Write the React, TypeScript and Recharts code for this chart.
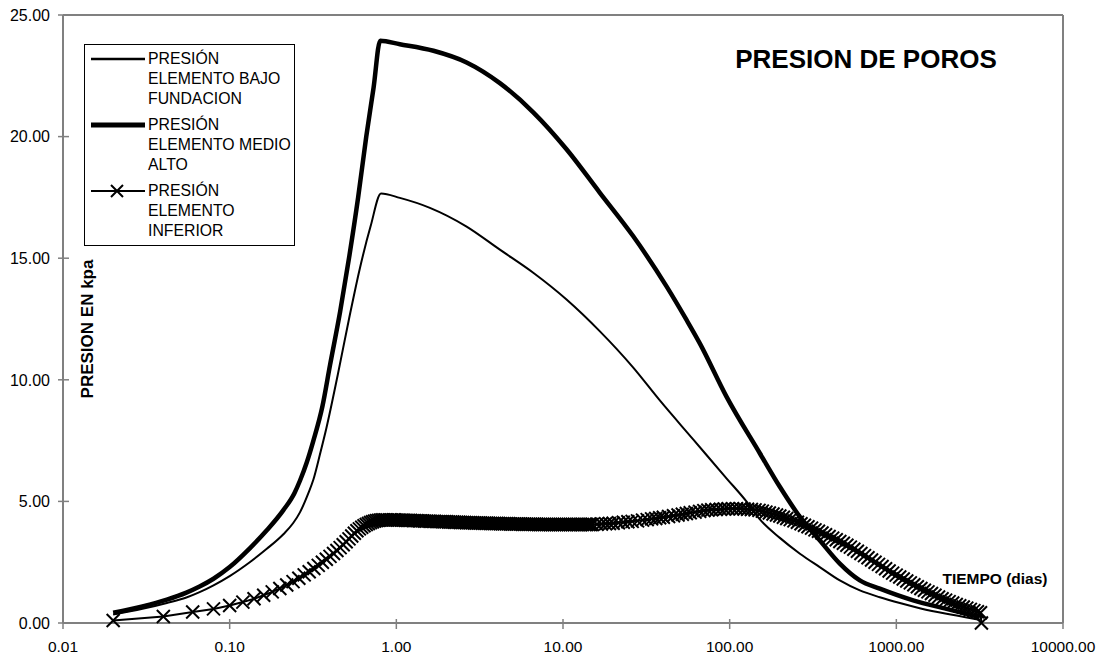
import { Legend, Line, LineChart, ReferenceLine, XAxis, YAxis } from "recharts"

type Pt = [number, number]

// tiempo (dias) vs presion (kpa)
const bajoFundacion: Pt[] = [
  [0.02, 0.35], [0.03, 0.58], [0.042, 0.82], [0.055, 1.05], [0.066, 1.27],
  [0.08, 1.55], [0.1, 1.93], [0.132, 2.5], [0.167, 3.05], [0.21, 3.65],
  [0.24, 4.1], [0.264, 4.55], [0.295, 5.3], [0.318, 5.9], [0.35, 7.0],
  [0.38, 8.0], [0.445, 10.2], [0.52, 12.5], [0.605, 14.6], [0.7, 16.3],
  [0.81, 17.66], [1.05, 17.48], [1.59, 17.07], [2.64, 16.3], [4.18, 15.35],
  [6.63, 14.4], [10.5, 13.3], [16.6, 12.0], [26.4, 10.5], [38.1, 9.15],
  [60.4, 7.55], [95.7, 5.95], [126, 5.0], [150, 4.3], [200, 3.5],
  [264, 2.85], [347, 2.3], [458, 1.75], [604, 1.34], [796, 1.06],
  [1050, 0.82], [1400, 0.6], [2000, 0.38], [2600, 0.24], [3200, 0.12],
]

const medioAlto: Pt[] = [
  [0.02, 0.42], [0.03, 0.68], [0.042, 0.96], [0.055, 1.25], [0.066, 1.5],
  [0.08, 1.82], [0.1, 2.3], [0.132, 3.07], [0.167, 3.81], [0.21, 4.64],
  [0.245, 5.35], [0.264, 5.85], [0.29, 6.6], [0.318, 7.5], [0.36, 8.9],
  [0.4, 10.6], [0.46, 12.8], [0.52, 15.0], [0.59, 17.5], [0.66, 20.0],
  [0.73, 22.0], [0.8, 23.94], [1.05, 23.8], [1.67, 23.53], [2.64, 23.05],
  [4.18, 22.2], [6.63, 21.0], [10.5, 19.48], [16.6, 17.7], [26.4, 15.9],
  [41.8, 13.84], [55, 12.47], [66.2, 11.5], [95.7, 9.31], [152, 6.97],
  [200, 5.6], [264, 4.36], [347, 3.4], [458, 2.44], [604, 1.75],
  [796, 1.41], [1262, 0.93], [2000, 0.58], [3170, 0.24],
]

const inferiorRise: Pt[] = [
  [0.02, 0.1], [0.04, 0.27], [0.06, 0.45], [0.08, 0.58], [0.1, 0.72],
  [0.12, 0.86], [0.14, 1.0], [0.16, 1.14], [0.18, 1.28], [0.2, 1.42],
  [0.22, 1.56], [0.24, 1.7], [0.26, 1.84], [0.28, 1.98], [0.3, 2.11],
  [0.32, 2.24], [0.34, 2.37], [0.36, 2.5], [0.38, 2.62], [0.4, 2.74],
  [0.42, 2.86], [0.44, 2.98], [0.46, 3.1], [0.48, 3.22], [0.5, 3.34],
  [0.52, 3.46], [0.54, 3.58], [0.56, 3.69], [0.58, 3.79], [0.6, 3.87],
  [0.62, 3.94], [0.64, 4.0], [0.66, 4.05], [0.68, 4.09], [0.7, 4.13],
  [0.72, 4.16], [0.74, 4.19], [0.76, 4.21], [0.78, 4.22], [0.8, 4.23],
]

const inferiorFlat: Pt[] = [
  [0.82, 4.24], [0.84, 4.24], [0.86, 4.24], [0.88, 4.24], [0.91, 4.24],
  [0.93, 4.24], [0.96, 4.24], [0.98, 4.24], [1.01, 4.23], [1.04, 4.23],
  [1.07, 4.23], [1.1, 4.23], [1.13, 4.22], [1.16, 4.22], [1.19, 4.22],
  [1.22, 4.22], [1.26, 4.21], [1.29, 4.21], [1.33, 4.21], [1.37, 4.2],
  [1.4, 4.2], [1.44, 4.2], [1.48, 4.19], [1.52, 4.19], [1.57, 4.19],
  [1.61, 4.18], [1.66, 4.18], [1.7, 4.18], [1.75, 4.17], [1.8, 4.17],
  [1.85, 4.17], [1.9, 4.16], [1.95, 4.16], [2.0, 4.16], [2.06, 4.15],
  [2.12, 4.15], [2.18, 4.15], [2.24, 4.14], [2.3, 4.14], [2.37, 4.14],
  [2.43, 4.13], [2.5, 4.13], [2.57, 4.13], [2.64, 4.12], [2.72, 4.12],
  [2.79, 4.12], [2.87, 4.12], [2.95, 4.11], [3.03, 4.11], [3.12, 4.11],
  [3.2, 4.11], [3.29, 4.1], [3.39, 4.1], [3.48, 4.1], [3.58, 4.1],
  [3.68, 4.09], [3.78, 4.09], [3.89, 4.09], [4.0, 4.09], [4.11, 4.09],
  [4.22, 4.08], [4.34, 4.08], [4.46, 4.08], [4.59, 4.08], [4.72, 4.08],
  [4.85, 4.07], [4.98, 4.07], [5.12, 4.07], [5.27, 4.07], [5.41, 4.07],
  [5.57, 4.07], [5.72, 4.06], [5.88, 4.06], [6.05, 4.06], [6.22, 4.06],
  [6.39, 4.06], [6.57, 4.06], [6.75, 4.06], [6.94, 4.06], [7.14, 4.05],
  [7.34, 4.05], [7.54, 4.05], [7.75, 4.05], [7.97, 4.05], [8.19, 4.05],
  [8.42, 4.05], [8.66, 4.05], [8.9, 4.05], [9.15, 4.05], [9.41, 4.05],
  [9.67, 4.05], [9.94, 4.05], [10.2, 4.05], [10.5, 4.05], [10.8, 4.05],
  [11.1, 4.05], [11.4, 4.05], [11.7, 4.05], [12.1, 4.05], [12.4, 4.05],
  [12.8, 4.05], [13.1, 4.05], [13.5, 4.05], [13.9, 4.05], [14.3, 4.05],
  [14.7, 4.05], [15.0, 4.05],
]

const inferiorHump: Pt[] = [
  [16, 4.06], [17, 4.07], [18, 4.08], [19, 4.09], [20, 4.1],
  [21.5, 4.12], [23, 4.14], [24.5, 4.16], [26, 4.18], [28, 4.2],
  [30, 4.23], [32, 4.25], [34, 4.28], [36, 4.3], [38, 4.33],
  [40, 4.35], [43, 4.38], [46, 4.41], [49, 4.44], [52, 4.47],
  [55, 4.5], [58, 4.53], [62, 4.56], [66, 4.59], [70, 4.62],
  [74, 4.64], [78, 4.66], [83, 4.67], [88, 4.68], [93, 4.69],
  [98, 4.7], [104, 4.7], [110, 4.7], [116, 4.7], [122, 4.69],
  [128, 4.68], [135, 4.67], [142, 4.65], [150, 4.63],
]

const inferiorTail: Pt[] = [
  [157, 4.6], [165, 4.56], [173, 4.52], [182, 4.48], [191, 4.44],
  [200, 4.4], [210, 4.35], [220, 4.3], [231, 4.25], [243, 4.2],
  [255, 4.14], [268, 4.08], [281, 4.02], [295, 3.96], [310, 3.9],
  [325, 3.83], [341, 3.77], [358, 3.7], [376, 3.63], [395, 3.56],
  [415, 3.49], [436, 3.42], [458, 3.35], [481, 3.28], [505, 3.2],
  [530, 3.12], [556, 3.03], [584, 2.95], [613, 2.86], [644, 2.77],
  [676, 2.68], [710, 2.59], [745, 2.5], [782, 2.41], [821, 2.32],
  [862, 2.23], [905, 2.14], [950, 2.05], [998, 1.97], [1048, 1.89],
  [1100, 1.81], [1155, 1.73], [1213, 1.65], [1274, 1.57], [1337, 1.49],
  [1404, 1.42], [1474, 1.35], [1548, 1.28], [1625, 1.21], [1706, 1.14],
  [1792, 1.07], [1881, 1.0], [1975, 0.94], [2074, 0.88], [2178, 0.82],
  [2287, 0.76], [2401, 0.71], [2521, 0.66], [2647, 0.61], [2780, 0.56],
  [2919, 0.51], [3065, 0.46], [3200, 0.42], [3240, 0],
]

const xTicks = [0.01, 0.1, 1, 10, 100, 1000, 10000]
const yTicks = [0, 5, 10, 15, 20, 25]

const SERIES = [
  { name: "PRESIÓN ELEMENTO BAJO FUNDACION", lines: ["PRESIÓN", "ELEMENTO BAJO", "FUNDACION"], width: 2, cross: false },
  { name: "PRESIÓN ELEMENTO MEDIO ALTO", lines: ["PRESIÓN", "ELEMENTO MEDIO", "ALTO"], width: 4.5, cross: false },
  { name: "PRESIÓN ELEMENTO INFERIOR", lines: ["PRESIÓN", "ELEMENTO", "INFERIOR"], width: 2, cross: true },
]

const FONT = "'Liberation Sans', Arial, Helvetica, sans-serif"
const GREY = "#808080"
const TICK_SIZE = 6
const TICK_MARGIN = 2

const toRows = (pts: Pt[]) => pts.map(([t, v]) => ({ t, v }))

const crossPath = (cx: number, cy: number, r: number) =>
  `M${cx - r},${cy - r}L${cx + r},${cy + r}M${cx - r},${cy + r}L${cx + r},${cy - r}`

const CrossDot = (props: any) => {
  const { cx, cy, index } = props
  if (cx == null || cy == null) return <g key={`c-${index}`} />
  return <path key={`c-${index}`} d={crossPath(cx, cy, 6.5)} stroke="#000" strokeWidth={2} fill="none" />
}

const XTick = (props: any) => {
  const { x, y, payload } = props
  const axisY = y - TICK_SIZE - TICK_MARGIN
  return (
    <g>
      <line x1={x} x2={x} y1={axisY - 4} y2={axisY + 6} stroke={GREY} strokeWidth={1.5} />
      <text x={x} y={axisY + 29} textAnchor="middle" fontSize={15.5} fontFamily={FONT} fill="#000">
        {Number(payload.value).toFixed(2)}
      </text>
    </g>
  )
}

const YTick = (props: any) => {
  const { x, y, payload } = props
  const axisX = x + TICK_SIZE + TICK_MARGIN
  return (
    <g>
      <line x1={axisX - 5} x2={axisX + 6} y1={y} y2={y} stroke={GREY} strokeWidth={1.5} />
      <text x={axisX - 13} y={y} dy="0.36em" textAnchor="end" fontSize={16} fontFamily={FONT} fill="#000">
        {Number(payload.value).toFixed(2)}
      </text>
    </g>
  )
}

const seriesIndex = (name: string) => SERIES.findIndex((s) => s.name === name)

const LegendBox = ({ payload }: any) => {
  const entries = [...(payload ?? [])].sort((a: any, b: any) => seriesIndex(a.value) - seriesIndex(b.value))
  return (
    <div
      style={{
        border: "1px solid #000",
        background: "#fff",
        width: 209,
        padding: "4px 0 4px 0",
        fontFamily: FONT,
        fontSize: 15.8,
        lineHeight: "20px",
        color: "#000",
      }}
    >
      {entries.map((entry: any, i: number) => {
        const cfg = SERIES[seriesIndex(entry.value)] ?? SERIES[i]
        return (
          <div key={cfg.name} style={{ display: "flex", marginTop: i ? 6 : 0 }}>
            <svg width={63} height={20} style={{ flex: "none" }}>
              <line x1={6} x2={60} y1={10} y2={10} stroke="#000" strokeWidth={cfg.cross ? 2 : cfg.width + 0.5} />
              {cfg.cross && <path d={crossPath(32, 10, 6)} stroke="#000" strokeWidth={2} fill="none" />}
            </svg>
            <div>
              {cfg.lines.map((l) => (
                <div key={l} style={{ whiteSpace: "nowrap" }}>{l}</div>
              ))}
            </div>
          </div>
        )
      })}
    </div>
  )
}

export default function App() {
  const inferior = toRows([...inferiorRise, ...inferiorFlat, ...inferiorHump, ...inferiorTail])

  return (
    <div style={{ position: "relative", width: 1102, height: 657, background: "#fff" }}>
      <style>{"body{margin:0}"}</style>
      <LineChart width={1102} height={657} margin={{ top: 15, right: 39, bottom: 0, left: 0 }}>
        <XAxis
          dataKey="t"
          type="number"
          scale="log"
          domain={[0.01, 10000]}
          ticks={xTicks}
          height={34}
          tickSize={TICK_SIZE}
          tickMargin={TICK_MARGIN}
          tickLine={false}
          axisLine={{ stroke: GREY, strokeWidth: 2 }}
          tick={<XTick />}
          interval={0}
        />
        <YAxis
          type="number"
          domain={[0, 25]}
          ticks={yTicks}
          width={63}
          tickSize={TICK_SIZE}
          tickMargin={TICK_MARGIN}
          tickLine={false}
          axisLine={{ stroke: GREY, strokeWidth: 2 }}
          tick={<YTick />}
          interval={0}
        />
        <ReferenceLine y={25} stroke={GREY} strokeWidth={2} />
        <ReferenceLine x={10000} stroke={GREY} strokeWidth={2} />
        <Line
          data={toRows(bajoFundacion)}
          dataKey="v"
          name={SERIES[0].name}
          type="monotone"
          stroke="#000"
          strokeWidth={SERIES[0].width}
          dot={false}
          activeDot={false}
          isAnimationActive={false}
        />
        <Line
          data={toRows(medioAlto)}
          dataKey="v"
          name={SERIES[1].name}
          type="monotone"
          stroke="#000"
          strokeWidth={SERIES[1].width}
          dot={false}
          activeDot={false}
          isAnimationActive={false}
        />
        <Line
          data={inferior}
          dataKey="v"
          name={SERIES[2].name}
          type="linear"
          stroke="#000"
          strokeWidth={SERIES[2].width}
          dot={CrossDot}
          activeDot={false}
          isAnimationActive={false}
        />
        <Legend
          layout="vertical"
          align="center"
          verticalAlign="middle"
          content={<LegendBox />}
          wrapperStyle={{ left: 84, top: 44, width: "auto", height: "auto" }}
        />
      </LineChart>
      <svg
        width={1102}
        height={657}
        style={{ position: "absolute", left: 0, top: 0, pointerEvents: "none" }}
        fontFamily={FONT}
        fontWeight="bold"
      >
        <text x={866} y={68} textAnchor="middle" fontSize={26}>PRESION DE POROS</text>
        <text x={995} y={584} textAnchor="middle" fontSize={15.5}>TIEMPO (dias)</text>
        <text x={93} y={329} textAnchor="middle" fontSize={17} transform="rotate(-90 93 329)">
          PRESION EN kpa
        </text>
      </svg>
    </div>
  )
}
